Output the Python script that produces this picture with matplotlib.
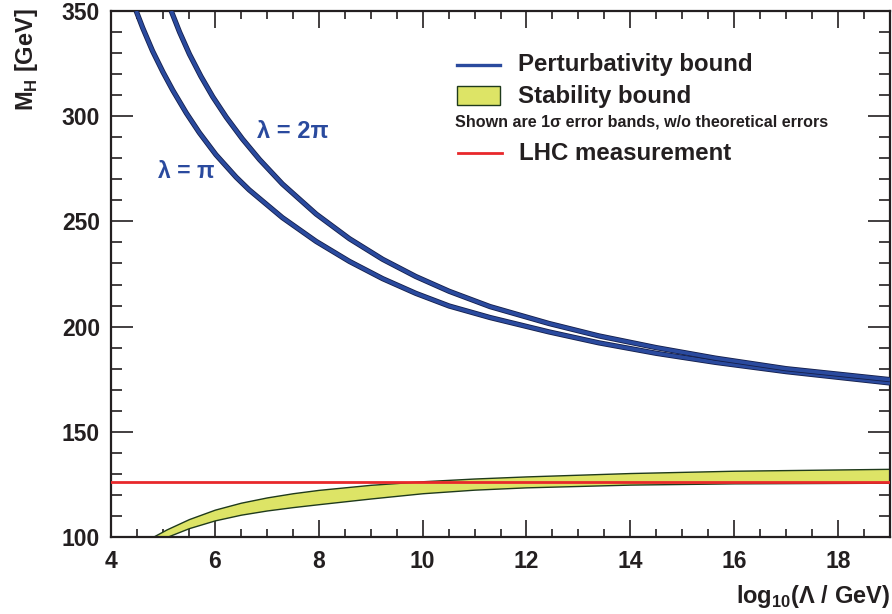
import matplotlib
matplotlib.use("Agg")
import matplotlib.pyplot as plt
import matplotlib.patheffects as pe
from matplotlib.ticker import MultipleLocator

plt.rcParams['font.family'] = ['Liberation Sans', 'DejaVu Sans']
plt.rcParams['font.weight'] = 'bold'
plt.rcParams['mathtext.fontset'] = 'custom'
plt.rcParams['mathtext.rm'] = 'Liberation Sans:bold'
plt.rcParams['mathtext.bf'] = 'Liberation Sans:bold'

# Perturbativity bound, lambda = pi
x_pi = [4.485, 4.61, 4.80, 5.00, 5.19, 5.45, 5.70, 6.02, 6.41, 6.66, 7.30, 7.95, 8.59, 9.23,
        9.87, 10.51, 11.3, 12.43, 13.39, 14.5, 15.64, 17.0, 19.0]
m_pi = [350, 342, 331, 321, 312.3, 301.5, 292.2, 281.7, 271.0, 265.0, 251.8, 240.5, 231.0, 222.8,
        215.8, 209.8, 204.3, 197.5, 192.3, 187.3, 183.0, 178.6, 173.2]
# Perturbativity bound, lambda = 2 pi
x_2pi = [5.16, 5.32, 5.51, 5.73, 5.96, 6.22, 6.53, 6.86, 7.30, 7.95, 8.59, 9.23, 9.87, 10.51,
         11.3, 12.43, 13.39, 14.5, 15.64, 17.0, 19.0]
m_2pi = [350, 340, 329.5, 319, 309.2, 299.5, 289.2, 279.4, 267.8, 253.5, 241.8, 232.0, 223.8, 216.8,
         209.5, 201.5, 195.6, 190.0, 185.0, 180.0, 174.8]
# Stability bound (1 sigma band)
x_stab = [4.6, 4.8, 5.07, 5.5, 6.0, 6.5, 7.0, 7.5, 8.0, 9.0, 10.0, 11.0, 12.0, 14.0, 16.0, 19.0]
stab_lo = [94.5, 97.2, 100.0, 104.2, 107.9, 110.6, 112.6, 114.2, 115.6, 118.3, 120.8, 122.5,
           123.6, 124.9, 125.5, 125.8]
stab_hi = [97.2, 100.0, 103.6, 108.5, 113.0, 116.3, 118.8, 120.8, 122.4, 124.8, 126.5, 127.8,
           128.8, 130.4, 131.5, 132.4]
# LHC measurement
m_lhc = 126.0

x_range = [4, 19]
y_range = [100, 350]

blue = '#2a4a9e'
navy = '#151f4a'
ink = '#231f20'
yellow = '#dde466'
green_edge = '#1f3a1c'
red = '#e8282b'

fig = plt.figure(figsize=(8.92, 6.14), dpi=100)
ax = fig.add_axes([111/892, 1-537/614, (890-111)/892, (537-11)/614])

ax.fill_between(x_stab, stab_lo, stab_hi, facecolor=yellow, edgecolor=green_edge, lw=1.0, zorder=2)
ax.axhline(m_lhc, color=red, lw=2.0, zorder=4)

for xs, ys in [(x_pi, m_pi), (x_2pi, m_2pi)]:
    ax.plot(xs, ys, color=blue, lw=2.6, solid_capstyle='butt', solid_joinstyle='round', zorder=3,
            path_effects=[pe.Stroke(linewidth=3.8, foreground=navy), pe.Normal()])

ax.set_xlim(*x_range)
ax.set_ylim(*y_range)
ax.xaxis.set_major_locator(MultipleLocator(2))
ax.xaxis.set_minor_locator(MultipleLocator(0.5))
ax.yaxis.set_major_locator(MultipleLocator(50))
ax.yaxis.set_minor_locator(MultipleLocator(10))
ax.tick_params(which='both', direction='in', top=True, right=True, color=ink, width=1.2,
               labelsize=16.5, labelcolor=ink)
ax.tick_params(axis='x', which='major', length=12, pad=9)
ax.tick_params(axis='x', which='minor', length=6)
ax.tick_params(axis='y', which='major', length=16, pad=8)
ax.tick_params(axis='y', which='minor', length=8)
for lab in ax.get_xticklabels() + ax.get_yticklabels():
    lab.set_fontweight('bold')
for s in ax.spines.values():
    s.set_linewidth(1.6)
    s.set_color(ink)

# axis titles
fig.text(26/892, 1-8/614, r'M$_\mathregular{H}$ [GeV]', rotation=90, ha='center', va='top',
         fontsize=17, fontweight='bold', color=ink)
fig.text(890/892, 1-597/614, r'log$_\mathregular{10}$($\mathregular{\Lambda}$ / GeV)', ha='right',
         va='center', fontsize=17, fontweight='bold', color=ink)

# curve labels
fig.text(158/892, 1-172/614, 'λ = π', ha='left', va='center', fontsize=16.5, fontweight='bold', color=blue)
fig.text(257/892, 1-131/614, 'λ = 2π', ha='left', va='center', fontsize=17, fontweight='bold', color=blue)

# legend
fig.add_artist(plt.Line2D([457/892, 500/892], [1-65/614, 1-65/614], color=blue, lw=2.4))
fig.add_artist(plt.Rectangle((457/892, 1-105/614), 43/892, 19/614, facecolor=yellow,
                             edgecolor=green_edge, lw=1.0))
fig.add_artist(plt.Line2D([458/892, 502/892], [1-153/614, 1-153/614], color=red, lw=2.0))
fig.text(518/892, 1-65/614, 'Perturbativity bound', ha='left', va='center', fontsize=17.3,
         fontweight='bold', color=ink)
fig.text(518/892, 1-96/614, 'Stability bound', ha='left', va='center', fontsize=17.3,
         fontweight='bold', color=ink)
fig.text(455/892, 1-122/614, 'Shown are 1σ error bands, w/o theoretical errors', ha='left',
         va='center', fontsize=11.6, fontweight='bold', color=ink)
fig.text(519/892, 1-153/614, 'LHC measurement', ha='left', va='center', fontsize=17.3,
         fontweight='bold', color=ink)

fig.savefig('out.png', dpi=100)
